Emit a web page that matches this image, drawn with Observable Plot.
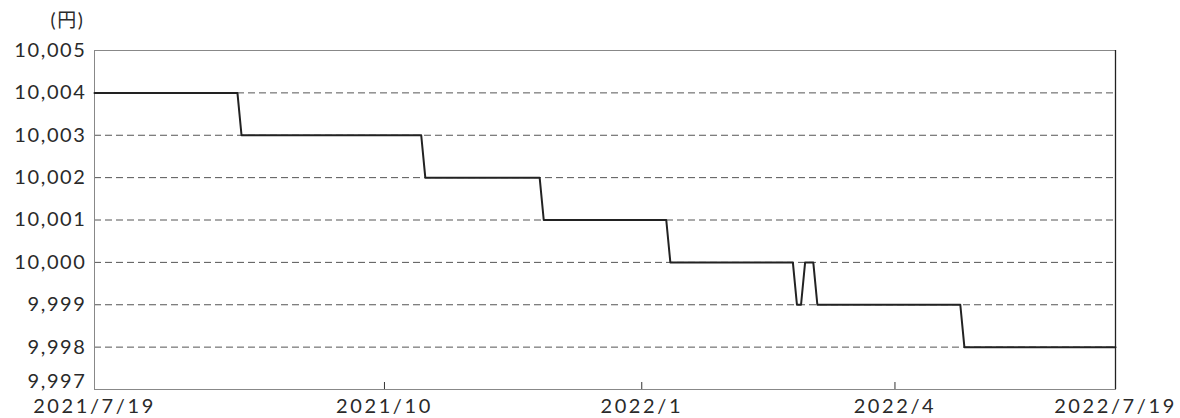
<!DOCTYPE html>
<html><head><meta charset="utf-8">
<script src="https://cdn.jsdelivr.net/npm/d3@7"></script>
<script src="https://cdn.jsdelivr.net/npm/@observablehq/plot@0.6"></script>
<style>body{margin:0;background:#fff}</style>
</head><body><div id="chart"></div>
<script>
// Business-day index (0 = 2021/7/19, 250 = 2022/7/19) and NAV (円)
const dayIndex = [0, 35, 36, 80, 81, 109, 110, 140, 141, 171, 172, 173, 174, 176, 177, 212, 213, 250];
const price    = [10004, 10004, 10003, 10003, 10002, 10002, 10001, 10001, 10000, 10000, 9999, 9999, 10000, 10000, 9999, 9999, 9998, 9998];
const xTickIndex  = [0, 71, 134, 196, 250];
const xTickLabels = ["2021/7/19", "2021/10", "2022/1", "2022/4", "2022/7/19"];
const yTicks = [9997, 9998, 9999, 10000, 10001, 10002, 10003, 10004, 10005];
const gridValues = [9998, 9999, 10000, 10001, 10002, 10003, 10004];

const data = dayIndex.map((d, i) => ({x: d, y: price[i]}));
const W = 1180, H = 418, mt = 50, mb = 29, ml = 94, mr = 65;
const fmt = d3.format(",");
const yMin = yTicks[0];

const chart = Plot.plot({
  width: W, height: H,
  marginTop: mt, marginBottom: mb, marginLeft: ml, marginRight: mr,
  style: {fontFamily: "Lato, 'Noto Sans CJK JP', sans-serif", fontWeight: 400, fontSize: "20px", color: "#2a2a2a", background: "#fff", overflow: "visible", letterSpacing: "1.6px", fontVariantNumeric: "tabular-nums"},
  x: {domain: [0, 250]},
  y: {domain: [9997, 10005]},
  marks: [
    Plot.ruleY(gridValues, {stroke: "#555", strokeDasharray: "7,4", strokeWidth: 1}),
    Plot.frame({stroke: "#888"}),
    Plot.ruleX([250], {stroke: "#222", strokeWidth: 1.3}),
    Plot.ruleX(xTickIndex.slice(1, -1), {stroke: "#333", insetTop: H - mt - mb - 7}),
    Plot.line(data, {x: "x", y: "y", stroke: "#222", strokeWidth: 2}),
    Plot.axisY(yTicks.filter(d => d !== yMin), {tickSize: 0, tickPadding: 8, tickFormat: d => fmt(d), fontSize: 20, label: null}),
    Plot.axisY([yMin], {tickSize: 0, tickPadding: 8, dy: -8, tickFormat: d => fmt(d), fontSize: 20, label: null}),
    Plot.axisX(xTickIndex, {tickSize: 0, tickPadding: 9, tickFormat: d => xTickLabels[xTickIndex.indexOf(d)], fontSize: 20, label: null}),
    Plot.text(["(円)"], {frameAnchor: "top-left", dx: -27, dy: -30, fontSize: 19, lineAnchor: "middle", textAnchor: "middle"})
  ]
});
d3.select(chart).selectAll('g[aria-label="x-axis tick label"] text').style("letter-spacing", "2.6px");
document.getElementById("chart").appendChild(chart);
</script>
</body></html>
